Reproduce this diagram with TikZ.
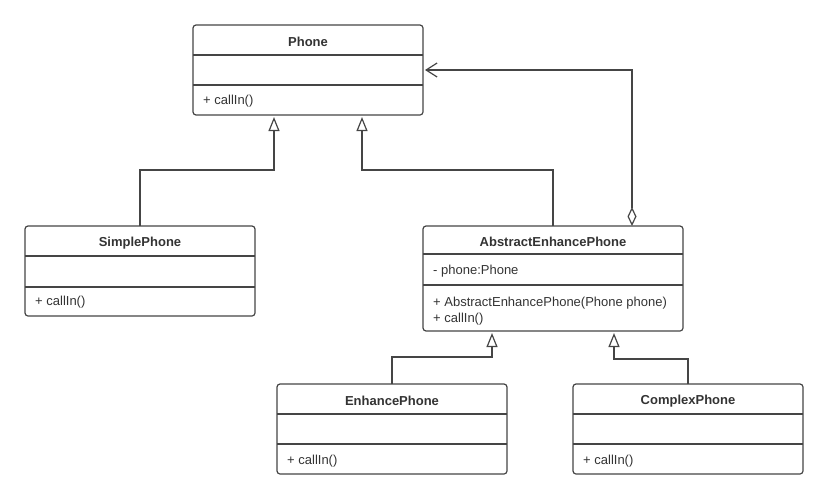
\documentclass[tikz,border=0pt]{standalone}
\usepackage{fontspec}
\setmainfont{Liberation Sans}
\usetikzlibrary{arrows.meta,positioning}

\definecolor{linegray}{HTML}{454545}
\definecolor{textgray}{HTML}{333333}

\tikzset{
  classbox/.style={draw=linegray, line width=1.2pt, rounded corners=3pt,
    minimum width=230pt, minimum height=90pt, inner sep=0pt, outer sep=0pt},
  divider/.style={draw=linegray, line width=1.2pt},
  titletext/.style={font=\fontsize{13}{15}\selectfont\bfseries, text=textgray, inner sep=0pt},
  membertext/.style={anchor=west, text=textgray, inner sep=0pt},
  inherit/.style={draw=linegray, line width=1.2pt, shorten >=2pt,
    -{Triangle[open, length=14pt, width=11pt]}},
  aggregate/.style={draw=linegray, line width=1.2pt, shorten >=2pt,
    {Diamond[open, length=19pt, width=9pt]}-{Straight Barb[length=11pt, width=14pt]}},
}

\begin{document}
\begin{tikzpicture}[x=1pt, y=-1pt, font=\fontsize{13}{15}\selectfont]
  \useasboundingbox (0,0) rectangle (828,498);

  % classes
  \node[classbox] (phone)   at (308,70)  {};
  \node[classbox] (simple)  at (140,271) {};
  \node[classbox, minimum width=260pt, minimum height=105pt] (aep) at (553,278.5) {};
  \node[classbox] (enhance) at (392,429) {};
  \node[classbox] (complex) at (688,429) {};

  % Phone
  \node[titletext] (phone-title) at ([yshift=-16.5pt]phone.north) {Phone};
  \draw[divider] ([yshift=-30pt]phone.north west) -- ([yshift=-30pt]phone.north east);
  \draw[divider] ([yshift=-60pt]phone.north west) -- ([yshift=-60pt]phone.north east);
  \node[membertext] (phone-op) at ([xshift=10pt, yshift=-76.5pt]phone.north west) {+ callIn()};

  % SimplePhone
  \node[titletext] (simple-title) at ([yshift=-17pt]simple.north) {SimplePhone};
  \draw[divider] ([yshift=-30pt]simple.north west) -- ([yshift=-30pt]simple.north east);
  \draw[divider] ([yshift=-61pt]simple.north west) -- ([yshift=-61pt]simple.north east);
  \node[membertext] (simple-op) at ([xshift=10pt, yshift=-76.5pt]simple.north west) {+ callIn()};

  % AbstractEnhancePhone
  \node[titletext] (aep-title) at ([yshift=-16pt]aep.north) {AbstractEnhancePhone};
  \draw[divider] ([yshift=-28pt]aep.north west) -- ([yshift=-28pt]aep.north east);
  \draw[divider] ([yshift=-59pt]aep.north west) -- ([yshift=-59pt]aep.north east);
  \node[membertext] (aep-attr) at ([xshift=10pt, yshift=-45.5pt]aep.north west) {- phone:Phone};
  \node[membertext] (aep-ctor) at ([xshift=10pt, yshift=-77.5pt]aep.north west) {+ AbstractEnhancePhone(Phone phone)};
  \node[membertext] (aep-op)   at ([xshift=10pt, yshift=-93.5pt]aep.north west) {+ callIn()};

  % EnhancePhone
  \node[titletext] (enhance-title) at ([yshift=-17pt]enhance.north) {EnhancePhone};
  \draw[divider] ([yshift=-30pt]enhance.north west) -- ([yshift=-30pt]enhance.north east);
  \draw[divider] ([yshift=-60pt]enhance.north west) -- ([yshift=-60pt]enhance.north east);
  \node[membertext] (enhance-op) at ([xshift=10pt, yshift=-77pt]enhance.north west) {+ callIn()};

  % ComplexPhone
  \node[titletext] (complex-title) at ([yshift=-17pt]complex.north) {ComplexPhone};
  \draw[divider] ([yshift=-30pt]complex.north west) -- ([yshift=-30pt]complex.north east);
  \draw[divider] ([yshift=-60pt]complex.north west) -- ([yshift=-60pt]complex.north east);
  \node[membertext] (complex-op) at ([xshift=10pt, yshift=-77pt]complex.north west) {+ callIn()};

  % relations
  \draw[inherit] (simple.north) -- ++(0,-56) -| ([xshift=-34pt]phone.south);
  \draw[inherit] (aep.north) -- ++(0,-56) -| ([xshift=54pt]phone.south);
  \draw[aggregate] ([xshift=79pt]aep.north) |- (phone.east);
  \draw[inherit] (enhance.north) -- ++(0,-27) -| ([xshift=-61pt]aep.south);
  \draw[inherit] (complex.north) -- ++(0,-25) -| ([xshift=61pt]aep.south);
\end{tikzpicture}
\end{document}
